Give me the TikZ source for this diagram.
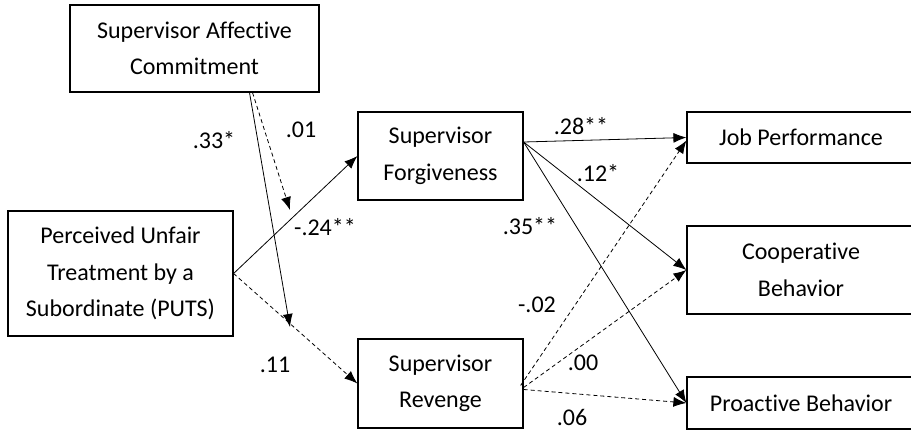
\documentclass[tikz,border=0pt]{standalone}
\usepackage{fontspec}
\setmainfont{Carlito}[Ligatures=NoCommon]
\usetikzlibrary{arrows.meta,calc}
\begin{document}
\begin{tikzpicture}[x=1pt,y=-1pt]

    \tikzset{
      box/.style={
        draw,
        line width=1.2pt,
        align=center,
        inner sep=0pt,
        font=\fontsize{24}{36.5}\selectfont,
      },
      sigarrow/.style={line width=0.8pt,-{Latex[length=13pt,width=10pt]}},
      nsarrow/.style={sigarrow,dash pattern=on 4pt off 3pt},
      coef/.style={inner sep=0pt,font=\fontsize{24}{29}\selectfont},
    }
    \useasboundingbox (0,0) rectangle (911,431);

	% boxes
	\node[box,minimum width=249pt,minimum height=87pt] (aff) at (194.5,48.5) {Supervisor Affective\\Commitment};
	\node[box,minimum width=225pt,minimum height=125pt] (puts) at (120.5,273.5) {Perceived Unfair\\Treatment by a\\Subordinate (PUTS)};
	\node[box,minimum width=165pt,minimum height=88pt] (forg) at (440.5,156) {Supervisor\\Forgiveness};
	\node[box,minimum width=165pt,minimum height=89pt] (rev) at (440.5,383.5) {Supervisor\\Revenge};
	\node[box,minimum width=228pt,minimum height=51pt] (job) at (801,137.5) {Job Performance};
	\node[box,minimum width=228pt,minimum height=88pt] (coop) at (801,270) {Cooperative\\Behavior};
	\node[box,minimum width=228pt,minimum height=52pt] (pro) at (801,403) {Proactive Behavior};

	% moderator targets
	\coordinate (modf) at (290,210);
	\coordinate (modr) at (290,327);

	\draw[sigarrow] (puts.east)--(forg.west);
	\draw[nsarrow] (puts.east)--(rev.west);
	\draw[sigarrow] ([xshift=55pt]aff.south)--(modr);
	\draw[nsarrow] ([xshift=58pt]aff.south)--(modf);

	\draw[sigarrow] ([yshift=14pt]forg.east)--(job.west);
	\draw[sigarrow] ([yshift=14pt]forg.east)--(coop.west);
	\draw[sigarrow] ([yshift=14pt]forg.east)--(pro.west);
	\draw[nsarrow] ([xshift=-3pt,yshift=-2pt]rev.east)--([yshift=-3pt]job.west);
	\draw[nsarrow] ([yshift=-4pt]rev.east)--(coop.west);
	\draw[nsarrow] ([yshift=-6pt]rev.east)--(pro.west);

	% coefficients
	\node[coef] (c33) at (214,140) {.33*};
	\node[coef] (c01) at (301,130) {.01};
	\node[coef] (c24) at (325,227) {-.24**};
	\node[coef] (c11) at (275,365) {.11};
	\node[coef] (c28) at (581,126) {.28**};
	\node[coef] (c12) at (598,173) {.12*};
	\node[coef] (c35) at (530,226) {.35**};
	\node[coef] (c02) at (537,305) {-.02};
	\node[coef] (c00) at (583,363) {.00};
	\node[coef] (c06) at (572,417) {.06};

\end{tikzpicture}
\end{document}
